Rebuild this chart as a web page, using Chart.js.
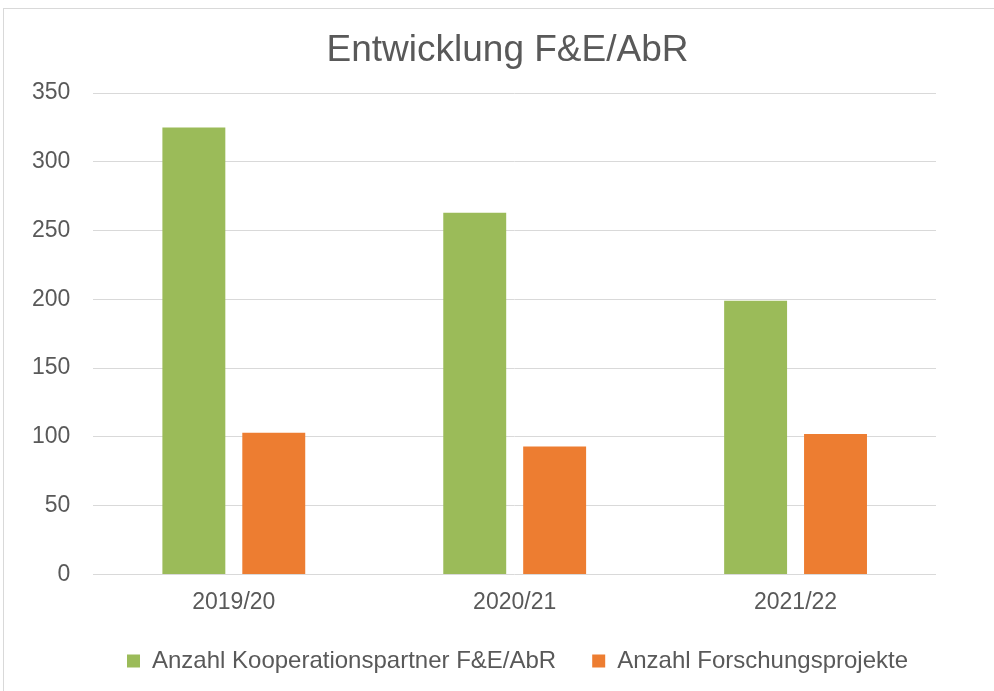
<!DOCTYPE html>
<html>
<head>
<meta charset="utf-8">
<script src="https://cdn.jsdelivr.net/npm/chart.js@4/dist/chart.umd.min.js"></script>
<style>
  html, body { margin: 0; padding: 0; background: #fff; overflow: hidden; }
  #frame {
    position: absolute; left: 3px; top: 8px;
    width: 1020px; height: 720px;
    border-left: 1px solid #d9d9d9; border-top: 1px solid #d9d9d9;
  }
  #chart { display: block; }
</style>
</head>
<body>
<div id="frame"><canvas id="chart" width="1006" height="674"></canvas></div>
<script>
// Entwicklung F&E/AbR
const categories   = ['2019/20', '2020/21', '2021/22'];
const partnerCount = [325, 263, 199];
const projectCount = [103, 93, 102];
const yTicks       = [0, 50, 100, 150, 200, 250, 300, 350];

const textGray = '#595959';
const gridGray = '#d9d9d9';
const font = 'Liberation Sans, Arial, sans-serif';

// the original centres title and legend on the whole frame, not inside the padding
const centreBoxes = {
  id: 'centreBoxes',
  afterLayout(chart) {
    chart.titleBlock.left += 35;
    chart.titleBlock.right += 35;
    chart.legend.left += 45;
    chart.legend.right += 45;
  }
};

const ctx = document.getElementById('chart');
new Chart(ctx, {
  type: 'bar',
  data: {
    labels: categories,
    datasets: [
      { label: 'Anzahl Kooperationspartner F&E/AbR', data: partnerCount, backgroundColor: '#9bbb59' },
      { label: 'Anzahl Forschungsprojekte',          data: projectCount, backgroundColor: '#ed7d31' }
    ]
  },
  plugins: [centreBoxes],
  options: {
    responsive: false,
    animation: false,
    devicePixelRatio: 1,
    datasets: { bar: { barPercentage: 0.7875, categoryPercentage: 0.569 } },
    layout: { padding: { left: 5, right: 74, top: 0, bottom: 0 } },
    plugins: {
      title: {
        display: true, text: 'Entwicklung F&E/AbR', color: textGray,
        font: { family: font, size: 37, weight: 'normal' },
        padding: { top: 20, bottom: 19.6 }
      },
      legend: {
        position: 'bottom',
        labels: {
          color: textGray, boxWidth: 13, boxHeight: 13, padding: 36,
          font: { family: font, size: 24 }
        }
      },
      tooltip: { enabled: false }
    },
    scales: {
      x: {
        grid: { display: false, drawTicks: false },
        border: { display: false },
        ticks: { color: textGray, padding: 14, font: { family: font, size: 23 } },
        // pull the legend up closer to the category labels
        afterFit: axis => { axis.height -= 17; }
      },
      y: {
        min: yTicks[0], max: yTicks[yTicks.length - 1],
        afterBuildTicks: axis => { axis.ticks = yTicks.map(v => ({ value: v })); },
        grid: { color: gridGray, lineWidth: 1, drawTicks: false },
        border: { display: false },
        ticks: { color: textGray, padding: 23, font: { family: font, size: 23 } }
      }
    }
  }
});
</script>
</body>
</html>
